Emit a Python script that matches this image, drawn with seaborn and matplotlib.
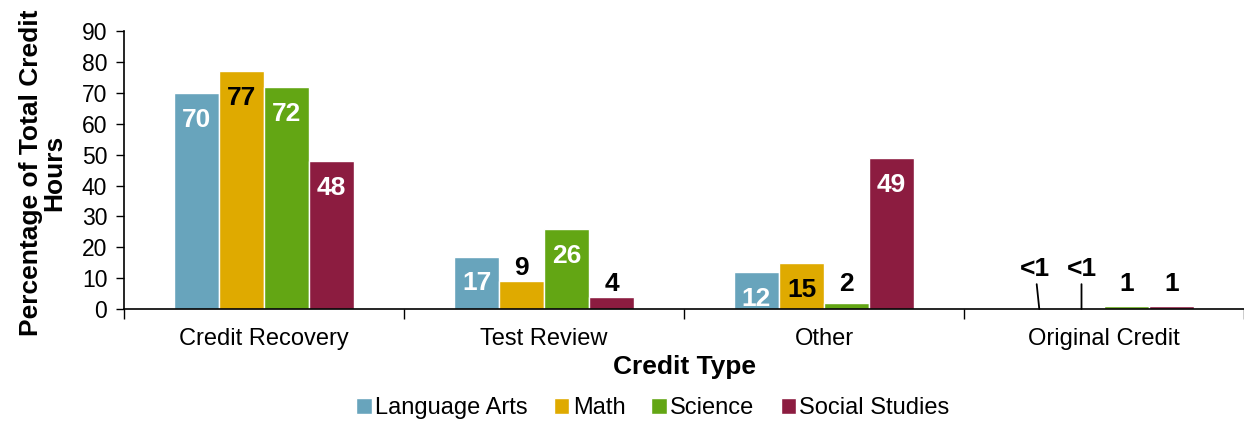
import matplotlib
matplotlib.use("Agg")
import matplotlib.pyplot as plt
import seaborn as sns
import pandas as pd
import numpy as np

categories = ["Credit Recovery", "Test Review", "Other", "Original Credit"]
subjects = ["Language Arts", "Math", "Science", "Social Studies"]
language_arts = [70, 17, 12, 0.0]
math_vals = [77, 9, 15, 0.0]
science = [72, 26, 2, 1]
social_studies = [48, 4, 49, 1]
label_lang = ["70", "17", "12", "<1"]
label_math = ["77", "9", "15", "<1"]
label_sci = ["72", "26", "2", "1"]
label_soc = ["48", "4", "49", "1"]
colors = ["#68A4BC", "#DFAA00", "#63A614", "#8C1C40"]
inside_color = ["white", "black", "white", "white"]

sns.set_theme(style="white")
plt.rcParams['font.family'] = ['Liberation Sans', 'DejaVu Sans']
plt.rcParams['text.color'] = 'black'
plt.rcParams['axes.labelcolor'] = 'black'
plt.rcParams['xtick.color'] = 'black'
plt.rcParams['ytick.color'] = 'black'

rows = []
for s, vals in zip(subjects, [language_arts, math_vals, science, social_studies]):
    for c, v in zip(categories, vals):
        rows.append({"Credit Type": c, "Subject": s, "Value": v})
df = pd.DataFrame(rows)

fig = plt.figure(figsize=(12.44, 4.21), dpi=100)
ax = fig.add_axes([0.0997, 0.266, 0.9003, 0.66])
sns.barplot(data=df, x="Credit Type", y="Value", hue="Subject", order=categories,
            hue_order=subjects, palette=colors, width=0.643, gap=0,
            saturation=1, ax=ax, legend=True, errorbar=None)

ax.set_ylim(0, 90)
ax.set_xlim(-0.5, 3.5)
ax.set_yticks(range(0, 91, 10))
ax.tick_params(axis='y', labelsize=16.5, length=6, width=1, direction='out', left=True, pad=6)
ax.tick_params(axis='x', which='major', labelsize=17, length=0, pad=14)
ax.set_xticks([-0.5, 0.5, 1.5, 2.5, 3.5], minor=True)
ax.tick_params(axis='x', which='minor', length=7, width=1, direction='out', bottom=True)
for sp in ["top", "right"]:
    ax.spines[sp].set_visible(False)
for sp in ["left", "bottom"]:
    ax.spines[sp].set_color("black")
    ax.spines[sp].set_linewidth(1.2)

ax.set_xlabel("Credit Type", fontsize=19, fontweight="bold", labelpad=3)
ax.set_ylabel("Percentage of Total Credit\nHours", fontsize=19, fontweight="bold",
              linespacing=0.92)
ax.yaxis.set_label_coords(-0.052, 0.49)

all_labels = [label_lang, label_math, label_sci, label_soc]
for i, cont in enumerate(ax.containers):
    for j, bar in enumerate(cont):
        h = bar.get_height()
        x = bar.get_x() + bar.get_width() / 2
        txt = all_labels[i][j]
        if txt == "<1":
            ax.annotate(txt, xy=(x + (0.01 if i == 0 else 0), 0),
                        xytext=(x - (0.005 if i == 0 else 0), 13.0),
                        ha="center", va="center", fontsize=19, fontweight="bold",
                        arrowprops=dict(arrowstyle="-", color="black", lw=1.3,
                                        shrinkA=0, shrinkB=0))
        elif h >= 12:
            ax.annotate(txt, xy=(x, h), xytext=(0, -19.4), textcoords="offset points",
                        ha="center", va="center", fontsize=19, fontweight="bold",
                        color=inside_color[i])
        else:
            ypos = max(h, 4.0)
            ax.annotate(txt, xy=(x, ypos), xytext=(0, 9.4), textcoords="offset points",
                        ha="center", va="center", fontsize=19, fontweight="bold",
                        color="black")

handles, labels = ax.get_legend_handles_labels()
ax.get_legend().remove()
fig.legend(handles, labels, loc="center", bbox_to_anchor=(0.525, 0.031), ncol=4,
           frameon=False, fontsize=17, handlelength=0.65, handleheight=0.65,
           handletextpad=0.15, columnspacing=1.1, borderaxespad=0, borderpad=0)

fig.savefig("out.png", dpi=100)
